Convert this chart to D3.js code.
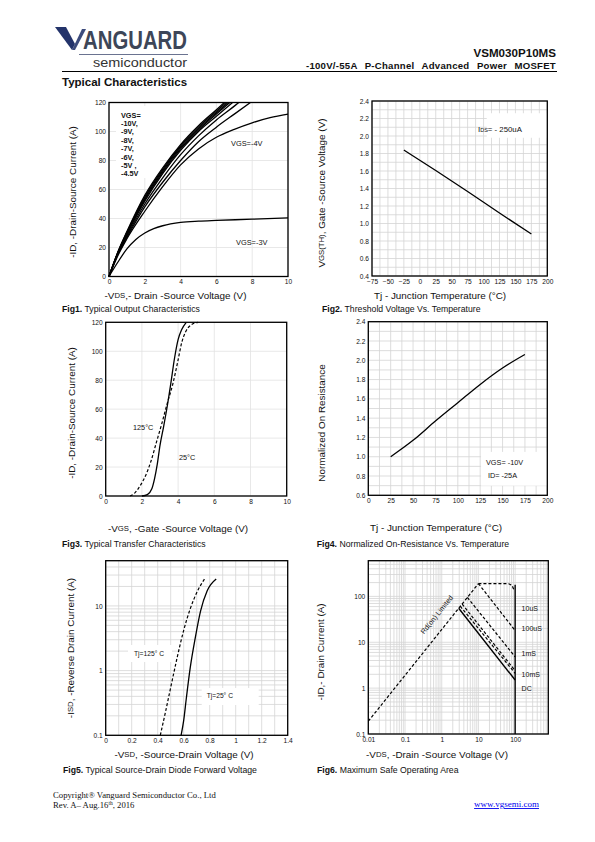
<!DOCTYPE html>
<html><head><meta charset="utf-8">
<script src="https://cdn.jsdelivr.net/npm/d3@7/dist/d3.min.js"></script>
<style>
body{margin:0;background:#fff}
svg{display:block}
text{font-family:"Liberation Sans",Arial,sans-serif;fill:#111}
</style></head>
<body><svg id="c" width="595" height="842"></svg>
<script>
// ---------------- DATA ----------------
// Fig1 output characteristics
const fig1Series = [
  {vgs:"-10V", vds:[0,0.5,1,2,3,4,5,6,6.45], id:[0,17,31,56,75,91,104,115,120]},
  {vgs:"-9V",  vds:[0,0.5,1,2,3,4,5,6,6.55], id:[0,16.8,30.5,55,74,90,103,114,120]},
  {vgs:"-8V",  vds:[0,0.5,1,2,3,4,5,6,6.65], id:[0,16.6,30,54,73,89,102,113,120]},
  {vgs:"-7V",  vds:[0,0.5,1,2,3,4,5,6,6.75], id:[0,16.4,29.5,53,72,88,101,112,120]},
  {vgs:"-6V",  vds:[0,0.5,1,2,3,4,5,6,6.9],  id:[0,16.2,29,52,71,87,100,110.5,120]},
  {vgs:"-5V",  vds:[0,0.5,1,2,3,4,5,6,7,7.25], id:[0,16,28,50,68,84,97,108,117.5,120]},
  {vgs:"-4.5V",vds:[0,0.5,1,2,3,4,5,6,7,7.9], id:[0,15.5,27,48,65,80,93,103,112,120]},
  {vgs:"-4V",  vds:[0,0.5,1,2,3,4,5,6,7,8,9,10], id:[0,14.5,26,45,62,77,88,96,101.5,106,109.5,112]},
  {vgs:"-3V",  vds:[0,0.5,1,1.5,2,2.5,3,4,5,6,8,10], id:[0,10,19,25.5,30,33,35,37.3,38.2,38.7,39.5,40.5]}
];
const fig1XTicks = [0,2,4,6,8,10];
const fig1YTicks = [0,20,40,60,80,100,120];
const fig1Legend = ["VGS=","-10V,","-9V,","-8V,","-7V,","-6V,","-5V ,","-4.5V"];

// Fig2 threshold voltage
const fig2Temp = [-25,25,75,125,175];
const fig2Vth  = [1.84,1.605,1.365,1.12,0.88];
const fig2XTicks = [-75,-50,-25,0,25,50,75,100,125,150,175,200];
const fig2YTicks = [0.4,0.6,0.8,1.0,1.2,1.4,1.6,1.8,2.0,2.2,2.4];

// Fig3 transfer characteristics
const fig3Vgs25  = [2.0,2.3,2.55,2.7,2.85,3.0,3.2,3.4,3.6,3.8,4.0,4.2,4.45];
const fig3Id25   = [0,1,5,12,22,35,48,62,78,95,108,115,120];
const fig3Vgs125 = [1.35,1.6,1.9,2.2,2.5,2.8,3.1,3.4,3.7,4.0,4.2,4.4,4.7,5.1];
const fig3Id125  = [0,2,7,14,24,37,50,64,77,94,106,113,118,120];
const fig3XTicks = [0,2,4,6,8,10];
const fig3YTicks = [0,20,40,60,80,100,120];

// Fig4 normalized on-resistance
const fig4Temp = [25,50,75,100,125,150,175];
const fig4Rds  = [1.0,1.17,1.37,1.56,1.75,1.92,2.06];
const fig4XTicks = [0,25,50,75,100,125,150,175,200];
const fig4YTicks = [0.6,0.8,1.0,1.2,1.4,1.6,1.8,2.0,2.2,2.4];

// Fig5 diode forward voltage
const fig5Vsd125 = [0.42,0.46,0.5,0.55,0.6,0.65,0.7,0.76];
const fig5Isd125 = [0.1,0.23,0.55,1.6,4.2,9,16,26];
const fig5Vsd25  = [0.58,0.6,0.62,0.65,0.69,0.73,0.78,0.85];
const fig5Isd25  = [0.1,0.17,0.37,1.1,3.3,8.4,17,26];
const fig5XTicks = [0,0.2,0.4,0.6,0.8,1,1.2,1.4];
const fig5YTicks = [0.1,1,10];

// Fig6 safe operating area
const fig6Lines = [
  {name:"Rds", v:[0.01,10], i:[0.19,190], dash:true},
  {name:"top", v:[10,60,80,92], i:[190,190,175,140], dash:true},
  {name:"100uS", v:[10,100], i:[190,18], dash:true},
  {name:"1mS", v:[5,100], i:[95,4.8], dash:true},
  {name:"10mS", v:[3.6,100], i:[68,2.4], dash:true},
  {name:"100mS", v:[3.2,100], i:[61,2.1], dash:true},
  {name:"DC", v:[2.9,100], i:[55,1.5], dash:false},
  {name:"Vmax", v:[100,100], i:[0.1,180], dash:false}
];
const fig6Labels = ["10uS","100uS","1mS","10mS","DC"];
const fig6LabelI = [54,19.5,5.8,2.0,1.0];
const fig6XTicks = [0.01,0.1,1,10,100];
const fig6YTicks = [0.1,1,10,100];

// ---------------- DRAW ----------------
const svg = d3.select("#c");
const FONT = '"Liberation Sans",Arial,sans-serif';

function rich(sel, parts, small){
  parts.forEach(p=>{
    if (typeof p === "string") sel.append("tspan").text(p);
    else sel.append("tspan").attr("font-size", small).text(p.s);
  });
  return sel;
}
function frame(g, x, y){
  const [x0,x1]=x.range(), [y0,y1]=y.range();
  g.append("rect").attr("x",x0).attr("y",y1).attr("width",x1-x0).attr("height",y0-y1)
    .attr("fill","none").attr("stroke","#000").attr("stroke-width",1.3);
}
function grid(g, x, y, xv, yv, color, w){
  const [x0,x1]=x.range(), [y0,y1]=y.range();
  g.append("g").selectAll("line").data(xv).join("line")
    .attr("x1",d=>x(d)).attr("x2",d=>x(d)).attr("y1",y0).attr("y2",y1)
    .attr("stroke",color).attr("stroke-width",w);
  g.append("g").selectAll("line").data(yv).join("line")
    .attr("y1",d=>y(d)).attr("y2",d=>y(d)).attr("x1",x0).attr("x2",x1)
    .attr("stroke",color).attr("stroke-width",w);
}
function axes(g, x, y, xt, yt, xf, yf){
  const ax = g.append("g").attr("transform",`translate(0,${y.range()[0]})`)
    .call(d3.axisBottom(x).tickValues(xt).tickSize(0).tickPadding(3).tickFormat(xf));
  const ay = g.append("g").attr("transform",`translate(${x.range()[0]},0)`)
    .call(d3.axisLeft(y).tickValues(yt).tickSize(0).tickPadding(3).tickFormat(yf));
  [ax,ay].forEach(a=>{ a.select(".domain").remove();
    a.selectAll("text").attr("font-size",6.6).attr("font-family",FONT).attr("fill","#333"); });
}
function yTitle(g, cx, cy, parts, fs){
  const t = g.append("text").attr("transform",`translate(${cx},${cy}) rotate(-90)`)
    .attr("text-anchor","middle").attr("dominant-baseline","central").attr("font-size",fs||9.9);
  rich(t, parts, (fs||9.9)*0.78);
}
function xTitle(g, cx, cy, parts, fs){
  const t = g.append("text").attr("x",cx).attr("y",cy).attr("text-anchor","middle")
    .attr("dominant-baseline","central").attr("font-size",fs||9.9);
  rich(t, parts, (fs||9.9)*0.78);
}
function caption(g, x, y, num, rest){
  const t = g.append("text").attr("x",x).attr("y",y).attr("font-size",8.7);
  t.append("tspan").attr("font-weight","bold").text(num);
  t.append("tspan").text(" "+rest);
}
const line = d3.line().curve(d3.curveMonotoneX);
const fmt = d3.format("~g");

// ---------- Header ----------
const hd = svg.append("g");
hd.append("path").attr("d","M55,27 L66,27 L75,44 L72,50 Z").attr("fill","#23336a");
hd.append("path").attr("d","M72,50 L82,29 L86,29 L75,50 Z").attr("fill","#3c4b7c");
hd.append("text").attr("x",83).attr("y",48.5).attr("font-size",26).attr("font-weight","bold")
  .attr("textLength",104).attr("lengthAdjust","spacingAndGlyphs").style("fill","#3d4658").text("ANGUARD");
hd.append("line").attr("x1",79).attr("x2",188).attr("y1",54.5).attr("y2",54.5).attr("stroke","#6a7390").attr("stroke-width",1);
hd.append("text").attr("x",93).attr("y",67).attr("font-size",13).attr("textLength",94)
  .attr("lengthAdjust","spacingAndGlyphs").style("fill","#333").text("semiconductor");
hd.append("text").attr("x",556).attr("y",57).attr("text-anchor","end").attr("font-size",11.6)
  .attr("font-weight","bold").text("VSM030P10MS");
const sub = hd.append("text").attr("x",556).attr("y",68.5).attr("text-anchor","end").attr("font-size",9.6).attr("font-weight","bold")
  .attr("letter-spacing",0.25).text("-100V/-55A P-Channel Advanced Power MOSFET");
{
  const w = sub.node().getComputedTextLength();
  sub.attr("word-spacing", Math.max(0,(250 - w)/4));
}
hd.append("line").attr("x1",62).attr("x2",557).attr("y1",71.5).attr("y2",71.5).attr("stroke","#000").attr("stroke-width",1);
hd.append("text").attr("x",62).attr("y",85.5).attr("font-size",11.5).attr("font-weight","bold").text("Typical Characteristics");

// ---------- Fig1 ----------
{
  const g = svg.append("g");
  const x = d3.scaleLinear().domain([0,10]).range([109,288]);
  const y = d3.scaleLinear().domain([0,120]).range([276.5,102.5]);
  grid(g,x,y,fig1XTicks,fig1YTicks,"#e2e2e2",0.8);
  g.append("rect").attr("x",116).attr("y",106).attr("width",44).attr("height",72).attr("fill","#fff");
  g.selectAll(".c").data(fig1Series).join("path").attr("fill","none").attr("stroke","#000").attr("stroke-width",1.3)
    .attr("d",s=>line(s.vds.map((v,i)=>[x(v),y(s.id[i])])));
  frame(g,x,y);
  axes(g,x,y,fig1XTicks,fig1YTicks,fmt,fmt);
  g.selectAll(".lg").data(fig1Legend).join("text").attr("x",121).attr("y",(d,i)=>117.5+i*8.4)
    .attr("font-size",7.3).attr("font-weight","bold").text(d=>d);
  g.append("text").attr("x",231).attr("y",145.5).attr("font-size",7.4).text("VGS=-4V");
  g.append("text").attr("x",236).attr("y",244.5).attr("font-size",7.4).text("VGS=-3V");
  yTitle(g,71.5,192,["-ID, -Drain-Source Current (A)"]);
  xTitle(g,175.5,295,["-V",{s:"DS"},",- Drain -Source Voltage (V)"]);
  caption(g,62,311.5,"Fig1.","Typical Output Characteristics");
}
// ---------- Fig2 ----------
{
  const g = svg.append("g");
  const x = d3.scaleLinear().domain([-75,200]).range([372,547.3]);
  const y = d3.scaleLinear().domain([0.4,2.4]).range([276,101]);
  grid(g,x,y,d3.range(-75,200.1,12.5),d3.range(0.4,2.41,0.1),"#d4d4d4",0.8);
  g.append("rect").attr("x",x(105)).attr("y",y(2.26)).attr("width",x(200)-x(105)).attr("height",y(1.98)-y(2.26)).attr("fill","#fff");
  g.append("path").attr("fill","none").attr("stroke","#000").attr("stroke-width",1.3)
    .attr("d",line(fig2Temp.map((t,i)=>[x(t),y(fig2Vth[i])])));
  frame(g,x,y);
  axes(g,x,y,fig2XTicks,fig2YTicks,fmt,d3.format(".1f"));
  rich(g.append("text").attr("x",478).attr("y",131.5).attr("font-size",7.8),["I",{s:"DS"},"= - 250uA"],5.5);
  yTitle(g,321,193,["V",{s:"GS(TH)"},", Gate -Source Voltage (V)"]);
  xTitle(g,440,294.5,["Tj - Junction Temperature (°C)"]);
  caption(g,322,311.5,"Fig2.","Threshold Voltage Vs. Temperature");
}
// ---------- Fig3 ----------
{
  const g = svg.append("g");
  const x = d3.scaleLinear().domain([0,10]).range([105.7,286.7]);
  const y = d3.scaleLinear().domain([0,120]).range([496,322.3]);
  grid(g,x,y,fig3XTicks,fig3YTicks,"#e2e2e2",0.8);
  g.append("path").attr("fill","none").attr("stroke","#000").attr("stroke-width",1.3)
    .attr("d",line(fig3Vgs25.map((v,i)=>[x(v),y(fig3Id25[i])])));
  g.append("path").attr("fill","none").attr("stroke","#000").attr("stroke-width",1.2).attr("stroke-dasharray","3,2")
    .attr("d",line(fig3Vgs125.map((v,i)=>[x(v),y(fig3Id125[i])])));
  frame(g,x,y);
  axes(g,x,y,fig3XTicks,fig3YTicks,fmt,fmt);
  g.append("text").attr("x",133).attr("y",429.5).attr("font-size",7.3).text("125°C");
  g.append("text").attr("x",179).attr("y",459.5).attr("font-size",7.3).text("25°C");
  yTitle(g,70.7,413,["-ID, -Drain-Source Current (A)"]);
  xTitle(g,178,527.5,["-V",{s:"GS"},", -Gate -Source Voltage (V)"]);
  caption(g,62,546.5,"Fig3.","Typical Transfer Characteristics");
}
// ---------- Fig4 ----------
{
  const g = svg.append("g");
  const x = d3.scaleLinear().domain([0,200]).range([368.3,547.3]);
  const y = d3.scaleLinear().domain([0.6,2.4]).range([495.3,321.7]);
  grid(g,x,y,d3.range(0,200.1,12.5),d3.range(0.6,2.41,0.1),"#d4d4d4",0.8);
  g.append("rect").attr("x",x(126)).attr("y",y(1.05)).attr("width",x(200)-x(126)).attr("height",y(0.7)-y(1.05)).attr("fill","#fff");
  g.append("path").attr("fill","none").attr("stroke","#000").attr("stroke-width",1.3)
    .attr("d",line(fig4Temp.map((t,i)=>[x(t),y(fig4Rds[i])])));
  frame(g,x,y);
  axes(g,x,y,fig4XTicks,fig4YTicks,fmt,d3.format(".1f"));
  g.append("text").attr("x",486).attr("y",464.5).attr("font-size",7.3).text("VGS= -10V");
  g.append("text").attr("x",488).attr("y",478).attr("font-size",7.3).text("ID= -25A");
  yTitle(g,321,423,["Normalized On Resistance"]);
  xTitle(g,436,526.5,["Tj - Junction Temperature (°C)"]);
  caption(g,316.7,546.5,"Fig4.","Normalized On-Resistance Vs. Temperature");
}
// ---------- Fig5 ----------
{
  const g = svg.append("g");
  const x = d3.scaleLinear().domain([0,1.4]).range([105.7,287.7]);
  const y = d3.scaleLog().domain([0.1,50]).range([735.3,560.7]);
  const yMinor = [];
  [0.1,1,10].forEach(b=>{for(let k=1;k<=9;k++){const v=+(b*k).toPrecision(3); if(v<=50) yMinor.push(v);}});
  grid(g,x,y,d3.range(0,1.41,0.1),yMinor,"#d4d4d4",0.8);
  g.append("rect").attr("x",128).attr("y",645).attr("width",44).attr("height",17).attr("fill","#fff");
  g.append("rect").attr("x",201.7).attr("y",688).attr("width",57).attr("height",17).attr("fill","#fff");
  g.append("path").attr("fill","none").attr("stroke","#000").attr("stroke-width",1.3)
    .attr("d",line(fig5Vsd25.map((v,i)=>[x(v),y(fig5Isd25[i])])));
  g.append("path").attr("fill","none").attr("stroke","#000").attr("stroke-width",1.2).attr("stroke-dasharray","3,2")
    .attr("d",line(fig5Vsd125.map((v,i)=>[x(v),y(fig5Isd125[i])])));
  frame(g,x,y);
  axes(g,x,y,fig5XTicks,fig5YTicks,fmt,fmt);
  g.append("text").attr("x",134).attr("y",655.5).attr("font-size",6.7).text("Tj=125° C");
  g.append("text").attr("x",206.7).attr("y",697.5).attr("font-size",6.7).text("Tj=25° C");
  yTitle(g,70,648,["-I",{s:"SD"},", -Reverse Drain Current (A)"]);
  xTitle(g,184,754,["-V",{s:"SD"},", -Source-Drain Voltage (V)"]);
  caption(g,63,772.5,"Fig5.","Typical Source-Drain Diode Forward Voltage");
}
// ---------- Fig6 ----------
{
  const g = svg.append("g");
  const x = d3.scaleLog().domain([0.01,800]).range([368.3,548.3]);
  const y = d3.scaleLog().domain([0.1,600]).range([734,560.7]);
  const xm=[], ym=[];
  [0.01,0.1,1,10,100].forEach(b=>{for(let k=1;k<=9;k++){const v=+(b*k).toPrecision(3); if(v<=800) xm.push(v);}});
  [0.1,1,10,100].forEach(b=>{for(let k=1;k<=9;k++){const v=+(b*k).toPrecision(3); if(v<=600) ym.push(v);}});
  grid(g,x,y,xm,ym,"#d4d4d4",0.8);
  g.selectAll(".s").data(fig6Lines).join("path").attr("fill","none").attr("stroke","#000")
    .attr("stroke-width",d=>d.dash?1.2:1.4).attr("stroke-dasharray",d=>d.dash?"3,2":null)
    .attr("d",d=>line(d.v.map((v,i)=>[x(v),y(d.i[i])])));
  frame(g,x,y);
  axes(g,x,y,fig6XTicks,fig6YTicks,fmt,fmt);
  g.selectAll(".l").data(fig6Labels).join("text").attr("x",x(150)).attr("y",(d,i)=>y(fig6LabelI[i]))
    .attr("dominant-baseline","central").attr("font-size",7).text(d=>d);
  const ang = -Math.atan2(y(0.1)-y(1), x(1)-x(0.1))*180/Math.PI;
  g.append("text").attr("transform",`translate(${x(0.73)},${y(40)}) rotate(${ang})`)
    .attr("text-anchor","middle").attr("dominant-baseline","central").attr("font-size",7.2).text("Rd(on) Limited");
  yTitle(g,320,652,["-ID,- Drain Current (A)"]);
  xTitle(g,437,754,["-V",{s:"DS"},", -Drain -Source Voltage (V)"]);
  caption(g,317,772.5,"Fig6.","Maximum Safe Operating Area");
}
// ---------- Footer ----------
{
  const f = svg.append("g");
  const SER = '"Liberation Serif","Times New Roman",serif';
  f.append("text").attr("x",53).attr("y",798).attr("font-size",8.7).style("font-family",SER).text("Copyright® Vanguard Semiconductor Co., Ltd");
  const r = f.append("text").attr("x",53).attr("y",807.5).attr("font-size",8.7).style("font-family",SER);
  r.append("tspan").text("Rev. A– Aug.16");
  r.append("tspan").attr("font-size",5.5).attr("dy",-3).text("th");
  r.append("tspan").attr("dy",3).text(", 2016");
  f.append("text").attr("x",539).attr("y",807).attr("text-anchor","end").attr("font-size",9)
    .style("font-family",SER).style("fill","#0000ee").attr("text-decoration","underline").text("www.vgsemi.com");
}
</script></body></html>
